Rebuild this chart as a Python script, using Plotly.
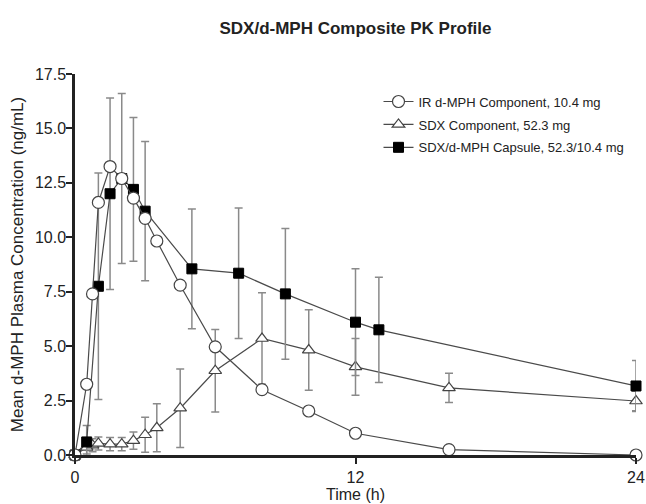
import plotly.graph_objects as go

# IR d-MPH component (circles)
ir_time = [0, 0.5, 0.75, 1, 1.5, 2, 2.5, 3, 3.5, 4.5, 6, 8, 10, 12, 16, 24]
ir_conc = [0, 3.25, 7.4, 11.6, 13.25, 12.7, 11.8, 10.87, 9.83, 7.8, 4.97, 3.0, 2.02, 1.0, 0.25, 0.0]

# SDX component (triangles)
sdx_time = [0, 0.5, 0.75, 1, 1.5, 2, 2.5, 3, 3.5, 4.5, 6, 8, 10, 12, 16, 24]
sdx_conc = [0, 0.35, 0.45, 0.53, 0.5, 0.5, 0.66, 0.93, 1.25, 2.15, 3.87, 5.35, 4.82, 4.05, 3.08, 2.48]
sdx_sd = [0, 0.3, 0.3, 0.3, 0.3, 0.3, 0.4, 0.8, 1.1, 1.8, 1.9, 2.1, 1.85, 1.3, 0.67, 0.45]

# SDX/d-MPH capsule (squares)
cap_time = [0, 0.5, 1, 1.5, 2, 2.5, 3, 5, 7, 9, 12, 13, 24]
cap_conc = [0, 0.6, 7.75, 12.0, 12.7, 12.2, 11.2, 8.55, 8.35, 7.4, 6.1, 5.75, 3.17]
cap_sd = [0, 0.75, 5.2, 4.4, 3.9, 3.3, 3.2, 2.75, 3.0, 3.0, 2.45, 2.42, 1.17]

x_ticks = [0, 12, 24]
y_ticks = [0, 2.5, 5, 7.5, 10, 12.5, 15, 17.5]
y_ticklabels = ["0.0", "2.5", "5.0", "7.5", "10.0", "12.5", "15.0", "17.5"]

line_col = "#4a4a4a"
err_col = "#8a8a8a"
font_fam = "Arial, Liberation Sans, sans-serif"

fig = go.Figure()

fig.add_trace(go.Scatter(
    x=sdx_time, y=sdx_conc, mode="lines+markers", name="SDX Component, 52.3 mg",
    legendrank=2, legendgroup="sdx", cliponaxis=False,
    line=dict(color=line_col, width=1.2),
    marker=dict(symbol="triangle-up", size=11, color="white", line=dict(color="#444", width=1.2)),
    error_y=dict(type="data", array=sdx_sd, visible=True, color=err_col, thickness=1.5, width=4),
))
fig.add_trace(go.Scatter(
    x=cap_time, y=cap_conc, mode="lines+markers", name="SDX/d-MPH Capsule, 52.3/10.4 mg",
    legendrank=3, legendgroup="cap", cliponaxis=False,
    line=dict(color=line_col, width=1.2),
    marker=dict(symbol="square", size=10, color="black", line=dict(color="black", width=1)),
    error_y=dict(type="data", array=cap_sd, visible=True, color=err_col, thickness=1.5, width=4),
))
fig.add_trace(go.Scatter(
    x=ir_time, y=ir_conc, mode="lines+markers", name="IR d-MPH Component, 10.4 mg",
    legendrank=1, legendgroup="ir", cliponaxis=False,
    line=dict(color=line_col, width=1.2),
    marker=dict(symbol="circle", size=12, color="white", line=dict(color="#444", width=1.2)),
))

fig.update_layout(
    width=646, height=504,
    margin=dict(l=75, r=10, t=74, b=49),
    paper_bgcolor="white", plot_bgcolor="white",
    font=dict(family=font_fam, color="#222"),
    title=dict(text="<b>SDX/d-MPH Composite PK Profile</b>", x=0.5, xref="paper",
               y=0.945, yref="container", yanchor="middle",
               font=dict(size=17, family=font_fam, color="#222")),
    showlegend=True,
    legend=dict(x=0.541, y=0.967, xanchor="left", yanchor="top",
                font=dict(size=13, family=font_fam, color="#222"),
                bgcolor="rgba(0,0,0,0)", itemwidth=30, tracegroupgap=3),
)
fig.update_xaxes(
    range=[0, 24], tickvals=x_ticks, ticktext=[str(v) for v in x_ticks],
    automargin=False,
    showgrid=False, zeroline=False, showline=True, linecolor="#222", linewidth=2.5,
    ticks="outside", ticklen=6, tickwidth=2, tickcolor="#222",
    tickfont=dict(size=16, family=font_fam, color="#222"),
    title=dict(text="Time (h)", font=dict(size=16, family=font_fam, color="#222"), standoff=4),
)
fig.update_yaxes(
    range=[0, 17.5], tickvals=y_ticks, ticktext=y_ticklabels,
    automargin=False, ticklabelstandoff=-3,
    showgrid=False, zeroline=False, showline=True, linecolor="#222", linewidth=2.5,
    ticks="outside", ticklen=6, tickwidth=2, tickcolor="#222",
    tickfont=dict(size=16, family=font_fam, color="#222"),
    title=dict(text="Mean d-MPH Plasma Concentration (ng/mL)",
               font=dict(size=17, family=font_fam, color="#222"), standoff=7),
)

fig.write_html("out.html", config={"displayModeBar": False},
               post_script="document.body.style.margin='0';")
